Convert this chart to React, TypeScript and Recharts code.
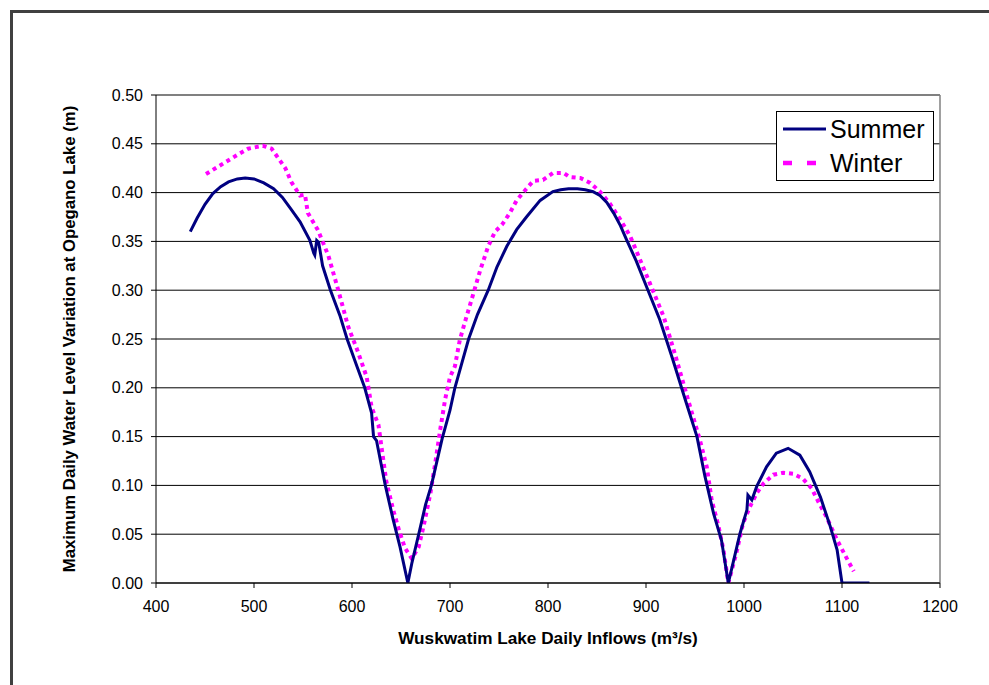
import React from "react";
import {
  LineChart,
  Line,
  XAxis,
  YAxis,
  CartesianGrid,
  ReferenceLine,
  Legend,
  Label,
} from "recharts";

// Wuskwatim Lake daily inflow (m³/s) vs. maximum daily water level variation at Opegano Lake (m)
const summerFlow = [
  435, 442, 450, 458, 466, 474, 483, 491, 500, 510, 520, 529, 537, 547, 557, 561,
  562, 564, 566, 570, 578, 588, 595, 605, 613, 620, 622, 625, 634, 642, 649, 657,
  661, 669, 675, 681, 692, 700, 705, 712, 719, 728, 739, 748, 758, 768, 778, 792,
  805, 813, 821, 830, 838, 846, 853, 860, 867, 874, 880, 890, 902, 914, 927, 940,
  952, 960, 969, 977, 984, 996, 1003, 1004, 1008, 1013, 1023, 1033, 1045, 1057,
  1067, 1078, 1088, 1095, 1100, 1128,
];
const summerLevel = [
  0.36, 0.374, 0.388, 0.399, 0.406, 0.411, 0.414, 0.415, 0.414, 0.41, 0.404, 0.395,
  0.384, 0.37, 0.351, 0.338, 0.336, 0.351, 0.349, 0.325, 0.3, 0.273, 0.25, 0.222,
  0.2, 0.174, 0.15, 0.146, 0.1, 0.065, 0.037, 0.0, 0.02, 0.054, 0.08, 0.1, 0.148,
  0.177, 0.2, 0.225, 0.25, 0.275, 0.3, 0.324, 0.345, 0.362, 0.375, 0.392, 0.401,
  0.403, 0.404, 0.404, 0.403, 0.401, 0.397, 0.39, 0.379, 0.366, 0.352, 0.33, 0.3,
  0.27, 0.23, 0.188, 0.15, 0.11, 0.071, 0.044, 0.0, 0.051, 0.075, 0.09, 0.085, 0.099,
  0.119, 0.133, 0.138, 0.131, 0.114, 0.088, 0.058, 0.034, 0.0, 0.0,
];

const winterFlow = [
  451, 469, 482, 494, 509, 518, 532, 538, 547, 552, 555, 565, 570, 576, 586, 596,
  601, 606, 615, 620, 627, 630, 635, 642, 648, 654, 661, 668, 673, 680, 685, 690,
  695, 700, 705, 710, 716, 724, 731, 739, 746, 753, 761, 768, 778, 785, 795, 805,
  816, 822, 833, 843, 853, 863, 874, 884, 894, 904, 918, 930, 943, 955, 962, 967,
  974, 979, 984, 992, 999, 1006, 1013, 1020, 1030, 1040, 1050, 1060, 1069, 1076,
  1084, 1095, 1105, 1112,
];
const winterLevel = [
  0.419, 0.43, 0.438, 0.445, 0.448, 0.445, 0.425, 0.411, 0.397, 0.398, 0.379, 0.362,
  0.35, 0.335, 0.3, 0.263, 0.25, 0.237, 0.211, 0.18, 0.162, 0.14, 0.104, 0.075, 0.054,
  0.036, 0.025, 0.037, 0.058, 0.092, 0.123, 0.157, 0.188, 0.211, 0.222, 0.249, 0.27,
  0.297, 0.321, 0.345, 0.36, 0.367, 0.379, 0.392, 0.404, 0.412, 0.413, 0.42, 0.42,
  0.416, 0.415, 0.41, 0.401, 0.389, 0.372, 0.355, 0.331, 0.307, 0.273, 0.233, 0.1875,
  0.1465, 0.119, 0.085, 0.058, 0.034, 0.0, 0.03, 0.061, 0.078, 0.092, 0.102, 0.111,
  0.113, 0.112, 0.107, 0.097, 0.083, 0.068, 0.044, 0.025, 0.012,
];

const xTicks = [400, 500, 600, 700, 800, 900, 1000, 1100, 1200];
const yTicks = [0, 0.05, 0.1, 0.15, 0.2, 0.25, 0.3, 0.35, 0.4, 0.45, 0.5];

const summerData = summerFlow.map((flow, i) => ({ flow, level: summerLevel[i] }));
const winterData = winterFlow.map((flow, i) => ({ flow, level: winterLevel[i] }));

const FONT = '"Liberation Sans", Arial, sans-serif';
const NAVY = "#000080";
const MAGENTA = "#ff00ff";

const LegendBox = () => (
  <div
    style={{
      width: 156,
      height: 68,
      border: "1px solid #000",
      background: "#fff",
      fontFamily: FONT,
      fontSize: 25,
      color: "#000",
      position: "relative",
    }}
  >
    <svg width={50} height={68} style={{ position: "absolute", left: 0, top: 0 }}>
      <line x1={6} x2={49} y1={17} y2={17} stroke={NAVY} strokeWidth={3} />
      <line
        x1={6}
        x2={49}
        y1={51}
        y2={51}
        stroke={MAGENTA}
        strokeWidth={4.5}
        strokeDasharray="9 15"
      />
    </svg>
    <div style={{ position: "absolute", left: 53, top: 3, lineHeight: "28px" }}>Summer</div>
    <div style={{ position: "absolute", left: 53, top: 37, lineHeight: "28px" }}>Winter</div>
  </div>
);

const YTitle = (props: any) => {
  const vb = props.viewBox;
  const x = vb.x - 21;
  const y = vb.y + vb.height / 2;
  return (
    <text
      x={x}
      y={y}
      transform={`rotate(-90 ${x} ${y})`}
      textAnchor="middle"
      fontFamily={FONT}
      fontSize={16.8}
      fontWeight="bold"
      fill="#000"
    >
      Maximum Daily Water Level Variation at Opegano Lake (m)
    </text>
  );
};

const XTitle = (props: any) => {
  const vb = props.viewBox;
  return (
    <text
      x={vb.x + vb.width / 2}
      y={vb.y + 61}
      textAnchor="middle"
      fontFamily={FONT}
      fontSize={17.2}
      fontWeight="bold"
      fill="#000"
    >
      Wuskwatim Lake Daily Inflows (m³/s)
    </text>
  );
};

export default function App() {
  return (
    <div
      style={{
        position: "absolute",
        left: 0,
        top: 0,
        width: 989,
        height: 685,
        overflow: "hidden",
        background: "#fff",
      }}
    >
      <div
        style={{
          position: "absolute",
          left: 10,
          top: 10,
          width: 1100,
          height: 800,
          border: "3px solid #404040",
          boxSizing: "border-box",
        }}
      />
      <div style={{ position: "absolute", left: 0, top: 0 }}>
        <LineChart
          width={989}
          height={685}
          margin={{ top: 95, right: 49, left: 96, bottom: 62 }}
        >
          <CartesianGrid horizontal vertical={false} stroke="#000" strokeWidth={1} />
          <XAxis
            type="number"
            dataKey="flow"
            domain={[400, 1200]}
            ticks={xTicks}
            allowDataOverflow
            height={40}
            tickSize={5}
            tickMargin={13}
            axisLine={{ stroke: "#000", strokeWidth: 1 }}
            tickLine={{ stroke: "#000" }}
            tick={{ fill: "#000", fontSize: 16, fontFamily: FONT }}
          >
            <Label content={XTitle} />
          </XAxis>
          <YAxis
            type="number"
            dataKey="level"
            domain={[0, 0.5]}
            ticks={yTicks}
            allowDataOverflow
            width={60}
            tickSize={5}
            tickMargin={8}
            tickFormatter={(v: number) => v.toFixed(2)}
            axisLine={{ stroke: "#000", strokeWidth: 1 }}
            tickLine={{ stroke: "#000" }}
            tick={{ fill: "#000", fontSize: 16, fontFamily: FONT }}
          >
            <Label content={YTitle} />
          </YAxis>
          <ReferenceLine y={0.5} stroke="#808080" strokeWidth={1.5} />
          <ReferenceLine x={1200} stroke="#808080" strokeWidth={1.5} />
          <Line
            data={winterData}
            dataKey="level"
            name="Winter"
            type="linear"
            stroke={MAGENTA}
            strokeWidth={4}
            strokeDasharray="4 4"
            dot={false}
            activeDot={false}
            isAnimationActive={false}
          />
          <Line
            data={summerData}
            dataKey="level"
            name="Summer"
            type="linear"
            stroke={NAVY}
            strokeWidth={3}
            dot={false}
            activeDot={false}
            isAnimationActive={false}
          />
          <Legend
            content={LegendBox}
            layout="vertical"
            align="center"
            verticalAlign="middle"
            wrapperStyle={{ position: "absolute", left: 776, top: 111, width: 158, height: 70 }}
          />
        </LineChart>
      </div>
    </div>
  );
}
